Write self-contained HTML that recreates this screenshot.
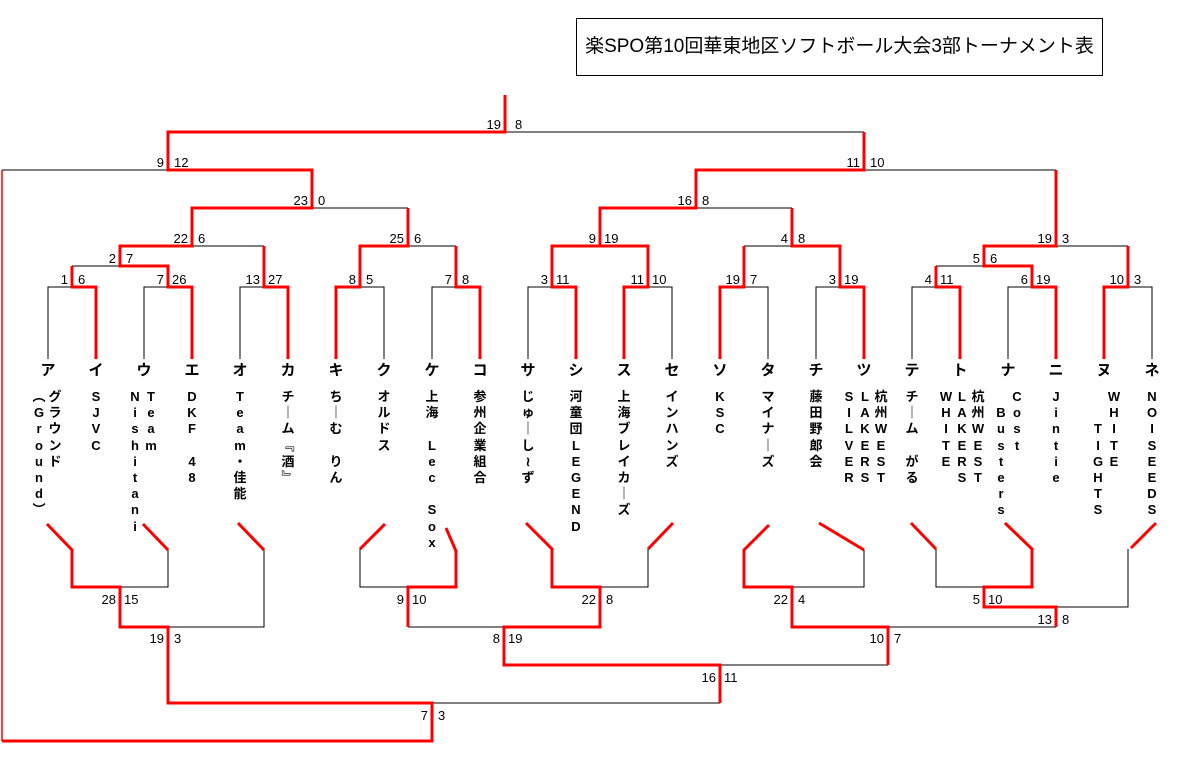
<!DOCTYPE html>
<html><head><meta charset="utf-8">
<style>
html,body{margin:0;padding:0;background:#fff;}
#w{position:relative;width:1177px;height:761px;overflow:hidden;background:#fff;}
svg{position:absolute;left:0;top:0;}
.n{position:absolute;top:389px;width:20px;margin-left:-10px;text-align:center;font:bold 13px/16.2px "Liberation Sans","Noto Sans CJK JP",sans-serif;color:#000;}
#title{position:absolute;left:576px;top:18px;width:527px;height:58px;border:1px solid #000;box-sizing:border-box;text-align:center;font:19px/56px "Liberation Sans","Noto Sans CJK JP",sans-serif;}
</style></head><body><div id="w">
<div id="title">楽SPO第10回華東地区ソフトボール大会3部トーナメント表</div>
<svg width="1177" height="761" viewBox="0 0 1177 761" font-family="Liberation Sans, Noto Sans CJK JP, sans-serif">
<g fill="none" stroke="#000" stroke-width="1">
<path d="M505,132H864M2,170H168M864,170H1056M312,208H408M696,208H792M192,246H264M408,246H456M552,246H600M744,246H792M1056,246H1128M72,266H120M936,266H984"/>
<path d="M48,359V287H96V359M144,359V287H192V359M240,359V287H288V359M336,359V287H384V359M432,359V287H480V359M528,359V287H576V359M624,359V287H672V359M720,359V287H768V359M816,359V287H864V359M912,359V287H960V359M1008,359V287H1056V359M1104,359V287H1152V359"/>
<path d="M168,550V587H120M264,550V627H168M360,549V587H408M408,627H504M600,587H648V549M432,703H720M720,665H888M792,587H864V550M888,627H1056M936,549V587H984M1056,607H1128V549"/>
</g>
<path d="M2,170V741" stroke="#f00" stroke-width="1.5" fill="none"/>
<g fill="none" stroke="#f00" stroke-width="3" stroke-linejoin="miter">
<path d="M505,95V132H168V170H312V208H192V246H120V266H168V287H192V359"/>
<path d="M72,266V287H96V359M264,246V287H288V359"/>
<path d="M408,208V246H360V287H336V359M456,246V287H480V359"/>
<path d="M864,132V170H696V208H600V246H552V287H576V359M600,246H648V287H624V359"/>
<path d="M792,208V246H840V287H864V359M744,246V287H720V359"/>
<path d="M1056,170V246H984V266H1032V287H1056V359M936,266V287H960V359M1128,246V287H1104V359"/>
<path d="M2,741H432V703H168V627H120V587H72V550L47,524"/>
<path d="M143,524L168,550M238,523L264,550M385,524L360,549"/>
<path d="M446,528L456,551V587H408V627"/>
<path d="M526,523L552,549V587H600V627H504V665H720V703M648,549L673,523"/>
<path d="M769,525L744,550V587H792V627H888V665M819,523L864,550"/>
<path d="M911,523L936,549M1005,523L1032,549V587H984V607H1056V627M1156,523L1131,548"/>
</g>
<g font-size="13" fill="#000">
<g text-anchor="end">
<text x="501" y="129">19</text><text x="164" y="167">9</text><text x="860" y="167">11</text>
<text x="308" y="205">23</text><text x="692" y="205">16</text>
<text x="188" y="243">22</text><text x="404" y="243">25</text><text x="596" y="243">9</text><text x="788" y="243">4</text><text x="1052" y="243">19</text>
<text x="116" y="263">2</text><text x="980" y="263">5</text>
<text x="68" y="284">1</text><text x="164" y="284">7</text><text x="260" y="284">13</text><text x="356" y="284">8</text><text x="452" y="284">7</text><text x="548" y="284">3</text><text x="644" y="284">11</text><text x="740" y="284">19</text><text x="836" y="284">3</text><text x="932" y="284">4</text><text x="1028" y="284">6</text><text x="1124" y="284">10</text>
<text x="116" y="604">28</text><text x="404" y="604">9</text><text x="596" y="604">22</text><text x="788" y="604">22</text><text x="980" y="604">5</text>
<text x="1052" y="624">13</text>
<text x="164" y="643">19</text><text x="500" y="643">8</text><text x="884" y="643">10</text>
<text x="716" y="682">16</text><text x="428" y="720">7</text>
</g>
<g>
<text x="515" y="129">8</text><text x="174" y="167">12</text><text x="870" y="167">10</text>
<text x="318" y="205">0</text><text x="702" y="205">8</text>
<text x="198" y="243">6</text><text x="414" y="243">6</text><text x="604" y="243">19</text><text x="798" y="243">8</text><text x="1062" y="243">3</text>
<text x="126" y="263">7</text><text x="990" y="263">6</text>
<text x="78" y="284">6</text><text x="172" y="284">26</text><text x="268" y="284">27</text><text x="366" y="284">5</text><text x="462" y="284">8</text><text x="556" y="284">11</text><text x="652" y="284">10</text><text x="750" y="284">7</text><text x="844" y="284">19</text><text x="940" y="284">11</text><text x="1036" y="284">19</text><text x="1134" y="284">3</text>
<text x="124" y="604">15</text><text x="412" y="604">10</text><text x="606" y="604">8</text><text x="798" y="604">4</text><text x="988" y="604">10</text>
<text x="1062" y="624">8</text>
<text x="174" y="643">3</text><text x="508" y="643">19</text><text x="894" y="643">7</text>
<text x="724" y="682">11</text><text x="438" y="720">3</text>
</g>
</g>
<g font-size="15" font-weight="bold" text-anchor="middle" fill="#000">
<text x="48" y="375">ア</text><text x="96" y="375">イ</text><text x="144" y="375">ウ</text><text x="192" y="375">エ</text><text x="240" y="375">オ</text><text x="288" y="375">カ</text><text x="336" y="375">キ</text><text x="384" y="375">ク</text><text x="432" y="375">ケ</text><text x="480" y="375">コ</text><text x="528" y="375">サ</text><text x="576" y="375">シ</text><text x="624" y="375">ス</text><text x="672" y="375">セ</text><text x="720" y="375">ソ</text><text x="768" y="375">タ</text><text x="816" y="375">チ</text><text x="864" y="375">ツ</text><text x="912" y="375">テ</text><text x="960" y="375">ト</text><text x="1008" y="375">ナ</text><text x="1056" y="375">ニ</text><text x="1104" y="375">ヌ</text><text x="1152" y="375">ネ</text>
</g>
</svg>
<div class="n" style="left:55px">グ<br>ラ<br>ウ<br>ン<br>ド</div>
<div class="n" style="left:39px">︵<br>G<br>r<br>o<br>u<br>n<br>d<br>︶</div>
<div class="n" style="left:96px">S<br>J<br>V<br>C</div>
<div class="n" style="left:151px">T<br>e<br>a<br>m</div>
<div class="n" style="left:135px">N<br>i<br>s<br>h<br>i<br>t<br>a<br>n<br>i</div>
<div class="n" style="left:192px">D<br>K<br>F<br><br>4<br>8</div>
<div class="n" style="left:240px">T<br>e<br>a<br>m<br>・<br>佳<br>能</div>
<div class="n" style="left:288px">チ<br>｜<br>ム<br>﹃<br>酒<br>﹄</div>
<div class="n" style="left:336px">ち<br>｜<br>む<br><br>り<br>ん</div>
<div class="n" style="left:384px">オ<br>ル<br>ド<br>ス</div>
<div class="n" style="left:432px">上<br>海<br><br>L<br>e<br>c<br><br>S<br>o<br>x</div>
<div class="n" style="left:480px">参<br>州<br>企<br>業<br>組<br>合</div>
<div class="n" style="left:528px">じ<br>ゅ<br>｜<br>し<br>≀<br>ず</div>
<div class="n" style="left:576px">河<br>童<br>団<br>L<br>E<br>G<br>E<br>N<br>D</div>
<div class="n" style="left:624px">上<br>海<br>ブ<br>レ<br>イ<br>カ<br>｜<br>ズ</div>
<div class="n" style="left:672px">イ<br>ン<br>ハ<br>ン<br>ズ</div>
<div class="n" style="left:720px">K<br>S<br>C</div>
<div class="n" style="left:768px">マ<br>イ<br>ナ<br>｜<br>ズ</div>
<div class="n" style="left:816px">藤<br>田<br>野<br>郎<br>会</div>
<div class="n" style="left:849px">S<br>I<br>L<br>V<br>E<br>R</div>
<div class="n" style="left:865px">L<br>A<br>K<br>E<br>R<br>S</div>
<div class="n" style="left:881px">杭<br>州<br>W<br>E<br>S<br>T</div>
<div class="n" style="left:912px">チ<br>｜<br>ム<br><br>が<br>る</div>
<div class="n" style="left:946px">W<br>H<br>I<br>T<br>E</div>
<div class="n" style="left:962px">L<br>A<br>K<br>E<br>R<br>S</div>
<div class="n" style="left:978px">杭<br>州<br>W<br>E<br>S<br>T</div>
<div class="n" style="left:1001px"><br>B<br>u<br>s<br>t<br>e<br>r<br>s</div>
<div class="n" style="left:1017px">C<br>o<br>s<br>t</div>
<div class="n" style="left:1056px">J<br>i<br>n<br>t<br>i<br>e</div>
<div class="n" style="left:1098px"><br><br>T<br>I<br>G<br>H<br>T<br>S</div>
<div class="n" style="left:1114px">W<br>H<br>I<br>T<br>E</div>
<div class="n" style="left:1152px">N<br>O<br>I<br>S<br>E<br>E<br>D<br>S</div>
</div></body></html>
